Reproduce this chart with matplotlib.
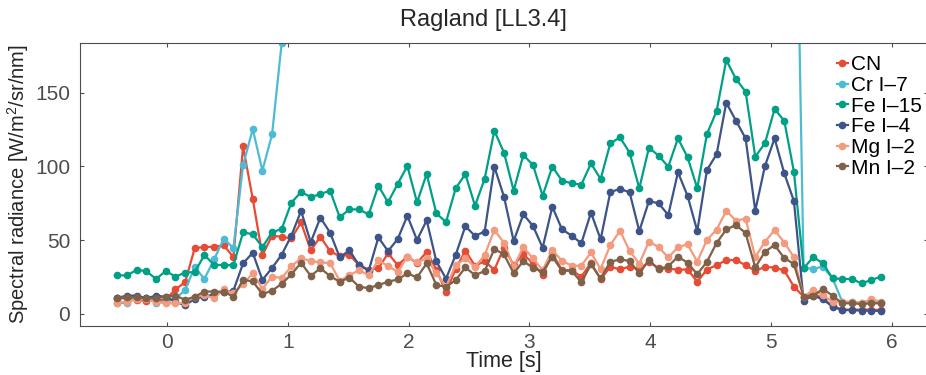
import numpy as np
import matplotlib
matplotlib.use("Agg")
import matplotlib.pyplot as plt

plt.rcParams['font.family'] = ['Liberation Sans', 'DejaVu Sans']
plt.rcParams['mathtext.default'] = 'regular'

# frame times, 0.08 s apart
time = [-0.41 + 0.08 * k for k in range(80)]

cn = [10.5, 10.5, 9.3, 8.9, 9.3, 9.5, 16.6, 21.3, 44.6, 45.3,
      45.5, 46.4, 38.5, 113.5, 78.0, 39.7, 53.0, 52.2, 51.1, 62.0,
      43.0, 52.2, 42.5, 39.0, 40.0, 33.0, 30.0, 30.8, 41.0, 33.0,
      38.7, 34.4, 42.0, 30.0, 14.7, 30.5, 42.8, 32.5, 35.7, 29.8,
      44.9, 33.0, 40.4, 34.2, 26.2, 40.9, 29.6, 29.6, 25.1, 34.6,
      23.3, 31.9, 30.1, 32.0, 30.1, 35.3, 30.8, 30.5, 30.0, 30.0,
      21.7, 30.0, 33.0, 36.4, 36.4, 33.0, 29.0, 31.9, 31.3, 29.4,
      18.4, 11.6, 13.8, 10.5, 5.3, 2.8, 2.8, 2.8, 2.8, 2.5]

cr = [7.1, 7.5, 10.9, 10.9, 7.5, 8.4, 10.2, 16.1, 31.7, 23.6,
      36.9, 50.9, 44.6, 100.9, 125.3, 97.1, 121.7, 184.0, 236, 281,
      312, 344, 330, 358, 371, 352, 366, 390, 402, 377,
      395, 418, 386, 360, 342, 375, 398, 384, 420, 446,
      431, 395, 424, 410, 388, 415, 402, 396, 393, 421,
      404, 440, 452, 438, 401, 432, 426, 409, 447, 429,
      398, 455, 478, 530, 511, 489, 402, 436, 468, 431,
      395, 31.0, 30.5, 32.0, 24.0, 8.2, 8.0, 7.5, 8.2, 7.5]

fe15 = [26.1, 26.0, 29.9, 28.8, 23.6, 29.0, 25.2, 27.9, 28.3, 39.9,
        33.1, 33.1, 32.9, 55.2, 54.0, 45.2, 55.2, 57.6, 75.4, 82.6,
        79.2, 81.2, 83.6, 65.5, 70.8, 70.8, 67.4, 86.9, 75.6, 88.2,
        100.2, 75.6, 94.8, 68.1, 62.2, 85.1, 94.8, 73.3, 91.6, 124.2,
        109.3, 83.5, 107.7, 100.9, 80.1, 99.8, 90.3, 88.5, 87.6, 102.0,
        91.4, 115.6, 119.7, 109.3, 85.1, 112.7, 107.2, 99.8, 119.0, 106.1,
        85.1, 121.9, 137.5, 172.1, 159.3, 150.7, 106.6, 115.6, 138.9, 131.0,
        96.4, 30.8, 38.5, 34.2, 24.0, 23.6, 23.6, 20.6, 22.9, 25.2]

fe4 = [10.9, 12.3, 12.3, 10.5, 12.3, 11.5, 8.2, 5.7, 10.2, 11.6,
       13.2, 14.8, 15.7, 34.2, 41.4, 22.9, 31.1, 40.1, 53.0, 69.8,
       48.5, 65.2, 55.1, 38.3, 43.0, 33.0, 29.3, 51.8, 42.5, 50.7,
       66.5, 50.0, 63.4, 35.5, 23.8, 39.9, 59.4, 52.8, 55.8, 99.8,
       79.4, 49.3, 67.5, 59.6, 44.8, 72.6, 57.3, 53.0, 47.8, 68.6,
       50.5, 82.5, 84.8, 82.3, 56.1, 76.5, 74.9, 67.0, 96.0, 79.9,
       56.1, 97.5, 108.2, 143.2, 131.0, 119.0, 69.9, 100.2, 119.0, 95.3,
       76.5, 8.9, 12.3, 9.8, 4.8, 2.5, 2.5, 2.1, 2.1, 1.9]

mg2 = [7.5, 8.2, 9.8, 10.2, 8.0, 7.1, 7.1, 7.5, 11.6, 12.7,
       10.5, 16.6, 13.8, 20.2, 27.4, 16.9, 25.2, 24.3, 32.2, 37.7,
       35.8, 34.8, 34.4, 22.4, 26.2, 29.5, 26.2, 36.4, 32.3, 28.5,
       38.7, 34.8, 37.5, 27.4, 18.3, 33.0, 37.5, 31.9, 39.8, 56.8,
       48.2, 31.9, 45.3, 37.5, 29.6, 43.2, 36.0, 32.6, 32.6, 41.6,
       30.3, 46.6, 56.3, 42.6, 34.0, 49.0, 45.2, 38.2, 45.2, 47.1,
       35.3, 50.2, 57.0, 69.9, 63.2, 64.5, 38.5, 48.8, 56.8, 48.3,
       38.4, 11.6, 16.1, 12.7, 8.2, 8.2, 8.2, 7.5, 9.8, 8.2]

mn2 = [10.9, 11.4, 11.2, 10.5, 10.6, 11.6, 12.3, 9.5, 11.6, 15.1,
       15.1, 14.9, 11.6, 22.9, 22.0, 13.3, 15.7, 20.3, 26.7, 34.6,
       25.7, 30.9, 25.6, 21.7, 24.6, 18.3, 17.4, 19.5, 21.7, 23.3,
       27.4, 24.7, 34.2, 19.5, 18.3, 22.8, 31.4, 26.2, 29.0, 43.9,
       40.3, 27.4, 35.7, 31.2, 28.5, 38.7, 29.2, 29.2, 21.3, 33.5,
       24.0, 35.3, 36.9, 35.8, 27.4, 36.4, 30.1, 32.3, 38.7, 34.6,
       26.8, 35.3, 48.0, 57.2, 60.2, 54.8, 31.4, 42.1, 46.6, 37.8,
       33.8, 11.6, 12.3, 16.8, 12.3, 7.1, 7.1, 6.6, 7.1, 7.1]

names = ['CN', 'Cr I\u20137', 'Fe I\u201315', 'Fe I\u20134', 'Mg I\u20132', 'Mn I\u20132']
series = [cn, cr, fe15, fe4, mg2, mn2]
colors = ['#E64B35', '#4DBBD5', '#00A087', '#3C5488', '#F39B7F', '#7E6148']

fig = plt.figure(figsize=(9.26, 3.75), dpi=100)
ax = fig.add_axes([80/926, 1 - 326/375, 848/926, 283/375])

for vals, name, c in zip(series, names, colors):
    ax.plot(time, vals, '-o', color=c, lw=1.6, ms=4.5, label=name)

ax.set_xlim(-0.72, 6.3)
ax.set_ylim(-8.3, 183.7)
ax.set_xticks(range(0, 7))
ax.set_yticks([0, 50, 100, 150])

grey = '#262626'
ax.tick_params(direction='in', top=True, right=True, length=3, width=0.8,
               labelsize=15, colors='#4d4d4d', labelcolor='#4d4d4d', pad=7)
ax.tick_params(axis='x', pad=5)
for s in ax.spines.values():
    s.set_color('#4d4d4d')
    s.set_linewidth(0.8)

ax.set_xlabel('Time [s]', fontsize=15.5, color=grey, labelpad=-1)
ax.set_ylabel('Spectral radiance [W/m$^2$/sr/nm]', fontsize=14.5, color=grey, labelpad=3)
# title sits a little left of the axes centre
fig.text(483/926, 1 - 20/375, 'Ragland [LL3.4]', fontsize=17, color=grey,
         ha='center', va='center')

leg = ax.legend(loc='upper left', bbox_to_anchor=(0.893, 0.957), frameon=False,
                fontsize=15, handlelength=0.5, handletextpad=0.15,
                labelspacing=0.08, borderaxespad=0.0, borderpad=0.0)

fig.savefig('out.png', dpi=100)
